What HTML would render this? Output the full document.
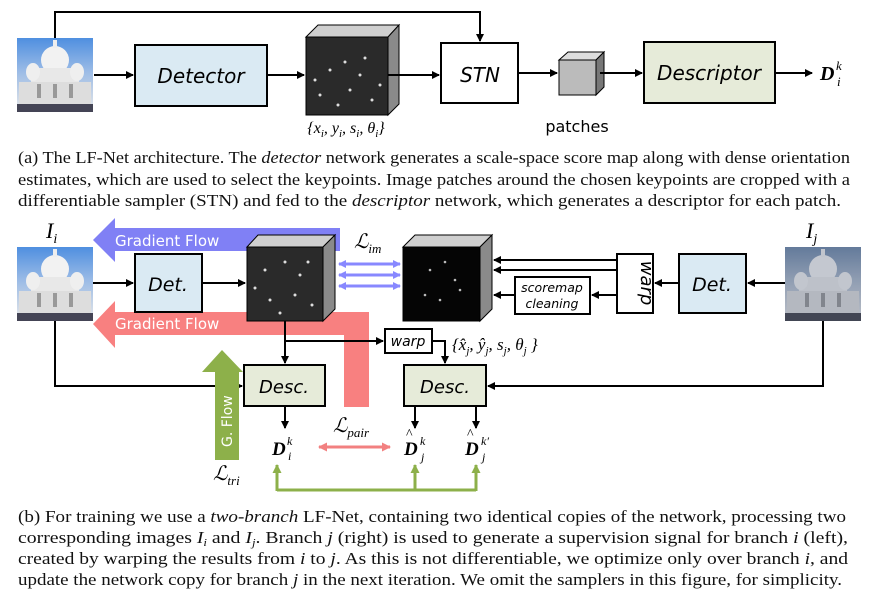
<!DOCTYPE html>
<html><head><meta charset="utf-8"><style>
html,body{margin:0;padding:0;background:#fff;}
svg{display:block;}
.s{font-family:"DejaVu Sans","Liberation Sans",sans-serif;}
.m{font-family:"Liberation Serif",serif;font-style:italic;}
.c{font-family:"Liberation Serif",serif;font-size:17px;fill:#111;}
</style></head><body>
<svg width="870" height="592" viewBox="0 0 870 592" xmlns="http://www.w3.org/2000/svg">
<defs>
<marker id="ah" markerWidth="8" markerHeight="8" refX="7" refY="4" orient="auto" markerUnits="userSpaceOnUse"><path d="M0,0 L8,4 L0,8 z" fill="#000"/></marker>
<marker id="ab" markerWidth="8" markerHeight="8" refX="7" refY="4" orient="auto-start-reverse" markerUnits="userSpaceOnUse"><path d="M0,0 L8,4 L0,8 z" fill="#8888ff"/></marker>
<marker id="ar" markerWidth="9" markerHeight="9" refX="8" refY="4.5" orient="auto-start-reverse" markerUnits="userSpaceOnUse"><path d="M0,0 L9,4.5 L0,9 z" fill="#f28080"/></marker>
<marker id="ag" markerWidth="9" markerHeight="9" refX="8" refY="4.5" orient="auto" markerUnits="userSpaceOnUse"><path d="M0,0 L9,4.5 L0,9 z" fill="#8db04a"/></marker>
<linearGradient id="sky" x1="0" y1="0" x2="0" y2="1"><stop offset="0" stop-color="#4f8fe0"/><stop offset="0.45" stop-color="#9bbbe6"/><stop offset="1" stop-color="#e8e8e8"/></linearGradient>
<linearGradient id="sky2" x1="0" y1="0" x2="0" y2="1"><stop offset="0" stop-color="#3a5a8a"/><stop offset="0.4" stop-color="#b0b6bf"/><stop offset="1" stop-color="#d9d9d6"/></linearGradient>
<g id="bld">
<rect x="0" y="0" width="76" height="74" fill="url(#sky)"/>
<ellipse cx="38" cy="22" rx="14" ry="14" fill="#f2f2f2"/>
<rect x="14" y="30" width="48" height="40" fill="#e8e8e8"/>
<ellipse cx="16" cy="34" rx="7" ry="9" fill="#efefef"/><ellipse cx="60" cy="34" rx="7" ry="9" fill="#efefef"/>
<rect x="36" y="2" width="4" height="8" fill="#eee"/>
<rect x="2" y="44" width="72" height="30" fill="#ddd"/>
<rect x="0" y="66" width="76" height="8" fill="#445"/>
<rect x="20" y="46" width="4" height="14" fill="#999"/><rect x="36" y="46" width="4" height="14" fill="#999"/><rect x="52" y="46" width="4" height="14" fill="#999"/>
</g>
</defs>

<!-- ===== Top (a) ===== -->
<use href="#bld" x="17" y="38"/>
<polyline points="55,38 55,12 480,12 480,41" fill="none" stroke="#000" stroke-width="2" marker-end="url(#ah)"/>
<line x1="94" y1="75" x2="133" y2="75" stroke="#000" stroke-width="2" marker-end="url(#ah)"/>
<rect x="135" y="45" width="132" height="61" fill="#daeaf3" stroke="#000" stroke-width="2"/>
<text x="201" y="83" class="s" font-size="20" font-style="italic" text-anchor="middle">Detector</text>
<line x1="267" y1="75" x2="304" y2="75" stroke="#000" stroke-width="2" marker-end="url(#ah)"/>
<!-- cube -->
<polygon points="306,37 318,25 399,25 388,37" fill="#cfcfcf" stroke="#000" stroke-width="1"/>
<polygon points="388,37 399,25 399,104 388,115" fill="#8a8a8a" stroke="#000" stroke-width="1"/>
<rect x="306" y="37" width="82" height="78" fill="#2a2a2a" stroke="#000" stroke-width="1"/>
<g fill="#ddd"><circle cx="330" cy="70" r="1.5"/><circle cx="345" cy="62" r="1.5"/><circle cx="360" cy="75" r="1.5"/><circle cx="320" cy="95" r="1.5"/><circle cx="350" cy="90" r="1.5"/><circle cx="372" cy="100" r="1.5"/><circle cx="338" cy="105" r="1.5"/><circle cx="365" cy="58" r="1.5"/><circle cx="315" cy="80" r="1.5"/><circle cx="380" cy="85" r="1.5"/></g>
<line x1="388" y1="75" x2="439" y2="75" stroke="#000" stroke-width="2" marker-end="url(#ah)"/>
<text x="346" y="133" class="m" font-size="16" text-anchor="middle">{x<tspan font-size="11" dy="4">i</tspan><tspan dy="-4">, y</tspan><tspan font-size="11" dy="4">i</tspan><tspan dy="-4">, s</tspan><tspan font-size="11" dy="4">i</tspan><tspan dy="-4">, θ</tspan><tspan font-size="11" dy="4">i</tspan><tspan dy="-4">}</tspan></text>
<rect x="441" y="43" width="77" height="60" fill="#fff" stroke="#000" stroke-width="2"/>
<text x="480" y="82" class="s" font-size="20" font-style="italic" text-anchor="middle">STN</text>
<line x1="518" y1="73" x2="557" y2="73" stroke="#000" stroke-width="2" marker-end="url(#ah)"/>
<polygon points="559,60 568,52 604,52 596,60" fill="#ddd" stroke="#000"/>
<polygon points="596,60 604,52 604,87 596,95" fill="#777" stroke="#000"/>
<rect x="559" y="60" width="37" height="35" fill="#bbb" stroke="#000"/>
<line x1="600" y1="73" x2="642" y2="73" stroke="#000" stroke-width="2" marker-end="url(#ah)"/>
<text x="577" y="132" class="s" font-size="16" text-anchor="middle">patches</text>
<rect x="644" y="42" width="131" height="61" fill="#e6ebd9" stroke="#000" stroke-width="2"/>
<text x="709" y="80" class="s" font-size="20" font-style="italic" text-anchor="middle">Descriptor</text>
<line x1="775" y1="73" x2="812" y2="73" stroke="#000" stroke-width="2" marker-end="url(#ah)"/>
<text x="820" y="80" font-family="Liberation Serif,serif" font-weight="bold" font-style="italic" font-size="20">D</text>
<text x="836" y="70" class="m" font-size="13">k</text><text x="837" y="86" class="m" font-size="13">i</text>

<text x="18" y="163" class="c" textLength="832" lengthAdjust="spacingAndGlyphs">(a) The LF-Net architecture. The <tspan font-style="italic">detector</tspan> network generates a scale-space score map along with dense orientation</text>
<text x="18" y="185" class="c" textLength="832" lengthAdjust="spacingAndGlyphs">estimates, which are used to select the keypoints. Image patches around the chosen keypoints are cropped with a</text>
<text x="18" y="206" class="c" textLength="823" lengthAdjust="spacingAndGlyphs">differentiable sampler (STN) and fed to the <tspan font-style="italic">descriptor</tspan> network, which generates a descriptor for each patch.</text>

<!-- ===== Bottom (b) ===== -->
<text x="46" y="238" class="m" font-size="22">I<tspan font-size="14" dy="5">i</tspan></text>
<text x="806" y="238" class="m" font-size="22">I<tspan font-size="14" dy="5">j</tspan></text>
<!-- blue gradient flow -->
<polygon points="93,240 115,218 115,228 340,228 340,251 115,251 115,262" fill="#8080f5"/>
<text x="115" y="246" class="s" font-size="15" fill="#fff">Gradient Flow</text>
<!-- red gradient flow -->
<polygon points="93,324 115,301 115,312 369,312 369,407 344,407 344,335 115,335 115,348" fill="#f88080"/>
<text x="115" y="329" class="s" font-size="15" fill="#fff">Gradient Flow</text>

<use href="#bld" x="17" y="247"/>
<g transform="translate(785,247)"><use href="#bld" x="0" y="0" style="filter:saturate(0.4)"/><rect x="0" y="0" width="76" height="74" fill="#3a4a6a" opacity="0.25"/></g>

<line x1="93" y1="283" x2="133" y2="283" stroke="#000" stroke-width="2" marker-end="url(#ah)"/>
<rect x="135" y="254" width="67" height="58" fill="#daeaf3" stroke="#000" stroke-width="2"/>
<text x="168" y="291" class="s" font-size="19" font-style="italic" text-anchor="middle">Det.</text>
<line x1="202" y1="283" x2="245" y2="283" stroke="#000" stroke-width="2" marker-end="url(#ah)"/>
<!-- cube i -->
<polygon points="247,247 258,235 335,235 323,247" fill="#cfcfcf" stroke="#000"/>
<polygon points="323,247 335,235 335,309 323,321" fill="#8a8a8a" stroke="#000"/>
<rect x="247" y="247" width="76" height="74" fill="#2a2a2a" stroke="#000"/>
<g fill="#ddd"><circle cx="265" cy="270" r="1.5"/><circle cx="285" cy="262" r="1.5"/><circle cx="300" cy="275" r="1.5"/><circle cx="270" cy="300" r="1.5"/><circle cx="295" cy="295" r="1.5"/><circle cx="312" cy="305" r="1.5"/><circle cx="280" cy="313" r="1.5"/><circle cx="308" cy="262" r="1.5"/><circle cx="255" cy="288" r="1.5"/></g>
<text x="354" y="248" class="m" font-size="20">ℒ<tspan font-size="13" dy="5">im</tspan></text>
<!-- blue double arrows -->
<g stroke="#8888ff" stroke-width="3"><line x1="339" y1="264" x2="400" y2="264" marker-start="url(#ab)" marker-end="url(#ab)"/><line x1="339" y1="275" x2="400" y2="275" marker-start="url(#ab)" marker-end="url(#ab)"/><line x1="339" y1="286" x2="400" y2="286" marker-start="url(#ab)" marker-end="url(#ab)"/></g>
<!-- cube j -->
<polygon points="403,247 415,235 492,235 480,247" fill="#cfcfcf" stroke="#000"/>
<polygon points="480,247 492,235 492,309 480,321" fill="#8a8a8a" stroke="#000"/>
<rect x="403" y="247" width="77" height="74" fill="#050505" stroke="#000"/>
<g fill="#bbb"><circle cx="430" cy="270" r="1.3"/><circle cx="445" cy="262" r="1.3"/><circle cx="455" cy="280" r="1.3"/><circle cx="425" cy="295" r="1.3"/><circle cx="440" cy="300" r="1.3"/><circle cx="460" cy="290" r="1.3"/></g>
<!-- arrows into cube j -->
<line x1="617" y1="260" x2="494" y2="260" stroke="#000" stroke-width="2" marker-end="url(#ah)"/>
<line x1="617" y1="270" x2="494" y2="270" stroke="#000" stroke-width="2" marker-end="url(#ah)"/>
<line x1="515" y1="295" x2="494" y2="295" stroke="#000" stroke-width="2" marker-end="url(#ah)"/>
<line x1="617" y1="295" x2="592" y2="295" stroke="#000" stroke-width="2" marker-end="url(#ah)"/>
<rect x="515" y="277" width="75" height="37" fill="#fff" stroke="#000" stroke-width="2"/>
<text x="552" y="292" class="s" font-size="12.5" font-style="italic" text-anchor="middle">scoremap</text>
<text x="552" y="308" class="s" font-size="12.5" font-style="italic" text-anchor="middle">cleaning</text>
<rect x="617" y="254" width="36" height="59" fill="#fff" stroke="#000" stroke-width="2"/>
<text transform="translate(641,283) rotate(90)" class="s" font-size="18" font-style="italic" text-anchor="middle">warp</text>
<line x1="679" y1="283" x2="655" y2="283" stroke="#000" stroke-width="2" marker-end="url(#ah)"/>
<rect x="679" y="254" width="67" height="59" fill="#daeaf3" stroke="#000" stroke-width="2"/>
<text x="712" y="291" class="s" font-size="19" font-style="italic" text-anchor="middle">Det.</text>
<line x1="785" y1="283" x2="748" y2="283" stroke="#000" stroke-width="2" marker-end="url(#ah)"/>

<!-- desc paths -->
<line x1="285" y1="321" x2="285" y2="363" stroke="#000" stroke-width="2" marker-end="url(#ah)"/>
<line x1="285" y1="341" x2="383" y2="341" stroke="#000" stroke-width="2" marker-end="url(#ah)"/>
<rect x="385" y="329" width="47" height="24" fill="#fff" stroke="#000" stroke-width="2"/>
<text x="408" y="346" class="s" font-size="14" font-style="italic" text-anchor="middle">warp</text>
<polyline points="432,341 445,341 445,363" fill="none" stroke="#000" stroke-width="2" marker-end="url(#ah)"/>
<text x="452" y="350" class="m" font-size="17">{x̂<tspan font-size="11" dy="4">j</tspan><tspan dy="-4">, ŷ</tspan><tspan font-size="11" dy="4">j</tspan><tspan dy="-4">, s</tspan><tspan font-size="11" dy="4">j</tspan><tspan dy="-4">, θ</tspan><tspan font-size="11" dy="4">j</tspan><tspan dy="-4"> }</tspan></text>
<polyline points="55,321 55,386 242,386" fill="none" stroke="#000" stroke-width="2" marker-end="url(#ah)"/>
<polyline points="823,321 823,386 488,386" fill="none" stroke="#000" stroke-width="2" marker-end="url(#ah)"/>
<!-- green G flow -->
<polygon points="202,372 222,350 243,372 239,372 239,460 215,460 215,372" fill="#8db04a"/>
<text transform="translate(232,447) rotate(-90)" class="s" font-size="14" fill="#fff">G. Flow</text>
<rect x="244" y="365" width="81" height="41" fill="#e6ebd9" stroke="#000" stroke-width="2"/>
<text x="284" y="393" class="s" font-size="18" font-style="italic" text-anchor="middle">Desc.</text>
<rect x="404" y="365" width="82" height="41" fill="#e6ebd9" stroke="#000" stroke-width="2"/>
<text x="445" y="393" class="s" font-size="18" font-style="italic" text-anchor="middle">Desc.</text>
<line x1="285" y1="406" x2="285" y2="428" stroke="#000" stroke-width="2" marker-end="url(#ah)"/>
<line x1="415" y1="406" x2="415" y2="428" stroke="#000" stroke-width="2" marker-end="url(#ah)"/>
<line x1="476" y1="406" x2="476" y2="428" stroke="#000" stroke-width="2" marker-end="url(#ah)"/>
<text x="333" y="432" class="m" font-size="20">ℒ<tspan font-size="13" dy="5">pair</tspan></text>
<text x="213" y="480" class="m" font-size="20">ℒ<tspan font-size="13" dy="5">tri</tspan></text>
<line x1="319" y1="447" x2="390" y2="447" stroke="#f28080" stroke-width="3" marker-start="url(#ar)" marker-end="url(#ar)"/>
<text x="272" y="455" font-family="Liberation Serif,serif" font-weight="bold" font-style="italic" font-size="19">D</text>
<text x="287" y="445" class="m" font-size="12">k</text><text x="288" y="460" class="m" font-size="12">i</text>
<text x="404" y="455" font-family="Liberation Serif,serif" font-weight="bold" font-style="italic" font-size="19">D</text>
<text x="406" y="438" font-family="Liberation Serif,serif" font-size="14">^</text>
<text x="420" y="445" class="m" font-size="12">k</text><text x="421" y="461" class="m" font-size="12">j</text>
<text x="465" y="455" font-family="Liberation Serif,serif" font-weight="bold" font-style="italic" font-size="19">D</text>
<text x="467" y="438" font-family="Liberation Serif,serif" font-size="14">^</text>
<text x="481" y="445" class="m" font-size="12">k′</text><text x="482" y="461" class="m" font-size="12">j</text>
<!-- green bracket -->
<polyline points="277,490 476,490" fill="none" stroke="#8db04a" stroke-width="3"/>
<line x1="277" y1="491" x2="277" y2="465" stroke="#8db04a" stroke-width="3" marker-end="url(#ag)"/>
<line x1="415" y1="491" x2="415" y2="465" stroke="#8db04a" stroke-width="3" marker-end="url(#ag)"/>
<line x1="476" y1="491" x2="476" y2="465" stroke="#8db04a" stroke-width="3" marker-end="url(#ag)"/>

<text x="18" y="522" class="c" textLength="828" lengthAdjust="spacingAndGlyphs">(b) For training we use a <tspan font-style="italic">two-branch</tspan> LF-Net, containing two identical copies of the network, processing two</text>
<text x="18" y="543" class="c" textLength="830" lengthAdjust="spacingAndGlyphs">corresponding images <tspan font-style="italic">I</tspan><tspan font-size="11" font-style="italic" dy="3">i</tspan><tspan dy="-3"> and </tspan><tspan font-style="italic">I</tspan><tspan font-size="11" font-style="italic" dy="3">j</tspan><tspan dy="-3">. Branch </tspan><tspan font-style="italic">j</tspan> (right) is used to generate a supervision signal for branch <tspan font-style="italic">i</tspan> (left),</text>
<text x="18" y="564" class="c" textLength="830" lengthAdjust="spacingAndGlyphs">created by warping the results from <tspan font-style="italic">i</tspan> to <tspan font-style="italic">j</tspan>. As this is not differentiable, we optimize only over branch <tspan font-style="italic">i</tspan>, and</text>
<text x="18" y="585" class="c" textLength="824" lengthAdjust="spacingAndGlyphs">update the network copy for branch <tspan font-style="italic">j</tspan> in the next iteration. We omit the samplers in this figure, for simplicity.</text>
</svg>
</body></html>
